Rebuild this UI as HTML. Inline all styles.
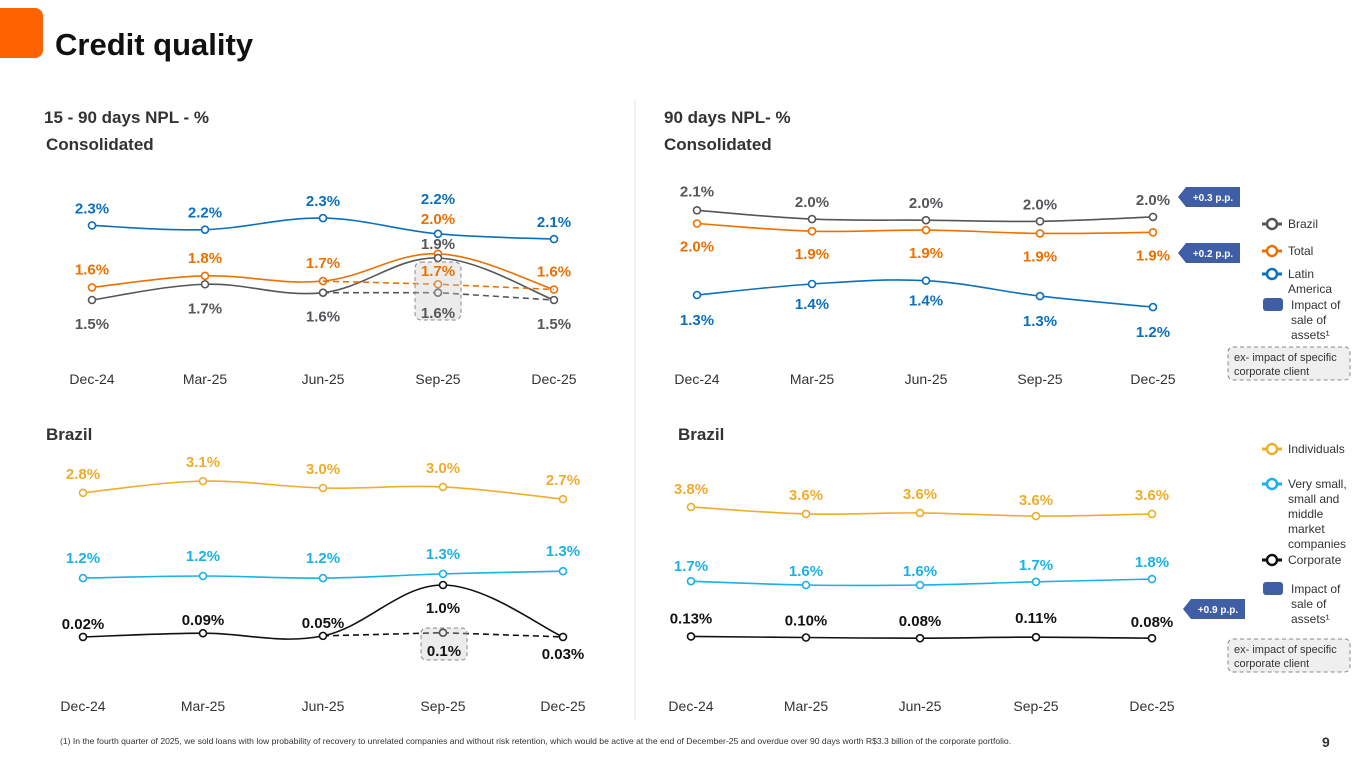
<!DOCTYPE html>
<html><head><meta charset="utf-8"><style>
html,body{margin:0;padding:0;background:#fff;}
body{width:1365px;height:768px;overflow:hidden;position:relative;font-family:"Liberation Sans",sans-serif;}
svg text{font-family:"Liberation Sans",sans-serif;}
</style></head><body>
<svg id="s" width="1365" height="768" viewBox="0 0 1365 768" xmlns="http://www.w3.org/2000/svg">
<rect x="-10" y="8" width="53" height="50" rx="8" fill="#ff6200"/>
<text x="55" y="55" font-size="31" font-weight="bold" fill="#111">Credit quality</text>
<text x="44" y="123" font-size="17" font-weight="bold" fill="#333">15 - 90 days NPL - %</text>
<text x="46" y="150" font-size="17" font-weight="bold" fill="#333">Consolidated</text>
<text x="664" y="123" font-size="17" font-weight="bold" fill="#333">90 days NPL- %</text>
<text x="664" y="150" font-size="17" font-weight="bold" fill="#333">Consolidated</text>
<text x="46" y="440" font-size="17" font-weight="bold" fill="#333">Brazil</text>
<text x="678" y="440" font-size="17" font-weight="bold" fill="#333">Brazil</text>
<line x1="635" y1="100" x2="635" y2="720" stroke="#e6e6e6"/>
<text x="60" y="744" font-size="8.6" fill="#333">(1) In the fourth quarter of 2025, we sold loans with low probability of recovery to unrelated companies and without risk retention, which would be active at the end of December-25 and overdue over 90 days worth R$3.3 billion of the corporate portfolio.</text>
<text x="1322" y="747" font-size="14" font-weight="bold" fill="#333">9</text>
<g id="g"></g>
</svg>
<script>
const categories=["Dec-24","Mar-25","Jun-25","Sep-25","Dec-25"];
// Top-left 15-90 NPL
const tlLatam=[2.21,2.17,2.28,2.13,2.08];
const tlTotal=[1.62,1.73,1.68,1.94,1.60];
const tlBrazil=[1.50,1.65,1.57,1.90,1.50];
const tlTotalEx=[1.65];
const tlBrazilEx=[1.57];
const tlLatamLbl=["2.3%","2.2%","2.3%","2.2%","2.1%"];
const tlTotalLbl=["1.6%","1.8%","1.7%","2.0%","1.6%"];
const tlBrazilLbl=["1.5%","1.7%","1.6%","1.9%","1.5%"];
const tlExLbl=["1.7%","1.6%"];
// Top-right 90 NPL
const trBrazil=[2.07,1.99,1.98,1.97,2.01];
const trTotal=[1.95,1.88,1.89,1.86,1.87];
const trLatam=[1.30,1.40,1.43,1.29,1.19];
const trBrazilLbl=["2.1%","2.0%","2.0%","2.0%","2.0%"];
const trTotalLbl=["2.0%","1.9%","1.9%","1.9%","1.9%"];
const trLatamLbl=["1.3%","1.4%","1.4%","1.3%","1.2%"];
// Bottom-left Brazil 15-90
const blInd=[2.74,2.96,2.83,2.85,2.62];
const blSme=[1.13,1.17,1.13,1.21,1.26];
const blCorp=[0.02,0.09,0.04,1.0,0.02];
const blCorpEx=[0.1];
const blIndLbl=["2.8%","3.1%","3.0%","3.0%","2.7%"];
const blSmeLbl=["1.2%","1.2%","1.2%","1.3%","1.3%"];
const blCorpLbl=["0.02%","0.09%","0.05%","1.0%","0.03%"];
const blExLbl=["0.1%"];
// Bottom-right Brazil 90
const brInd=[3.83,3.63,3.66,3.57,3.63];
const brSme=[1.71,1.60,1.60,1.69,1.77];
const brCorp=[0.13,0.10,0.08,0.11,0.08];
const brIndLbl=["3.8%","3.6%","3.6%","3.6%","3.6%"];
const brSmeLbl=["1.7%","1.6%","1.6%","1.7%","1.8%"];
const brCorpLbl=["0.13%","0.10%","0.08%","0.11%","0.08%"];
const badges=["+0.3 p.p.","+0.2 p.p.","+0.9 p.p."];

const NS="http://www.w3.org/2000/svg";
const G=document.getElementById('g');
function mk(t,a,p){const e=document.createElementNS(NS,t);for(const k in a)e.setAttribute(k,a[k]);(p||G).appendChild(e);return e;}
function txt(x,y,s,fill,size,anchor,w){const t=mk('text',{x:x,y:y,fill:fill,'font-size':size||15,'font-weight':w||'bold','text-anchor':anchor||'middle'});t.textContent=s;return t;}
function path(pts){let d='M'+pts[0][0]+','+pts[0][1];for(let i=0;i<pts.length-1;i++){const p0=pts[i-1]||pts[i],p1=pts[i],p2=pts[i+1],p3=pts[i+2]||p2;const t=0.18;d+=' C'+(p1[0]+(p2[0]-p0[0])*t)+','+(p1[1]+(p2[1]-p0[1])*t)+' '+(p2[0]-(p3[0]-p1[0])*t)+','+(p2[1]-(p3[1]-p1[1])*t)+' '+p2[0]+','+p2[1];}return d;}
function chart(name,xs,y0,k,series,axisY){
  const X=i=>xs[i],Y=v=>y0-k*v;
  categories.forEach((c,i)=>{const t=txt(X(i),axisY,c,'#333',14,'middle','normal');
    
    });
  series.forEach(s=>{
    const pts=s.v.map((v,i)=>[X(i),Y(v)]);
    const p=mk('path',{d:path(pts),fill:'none',stroke:s.c,'stroke-width':1.6});
    
    
    if(s.ex){const a=[X(2),Y(s.v[2])],b=[X(3),Y(s.ex[0])],c=[X(4),Y(s.v[4])];
      const d=mk('path',{d:'M'+a+' L'+b+' L'+c,fill:'none',stroke:s.c,'stroke-width':1.6,'stroke-dasharray':'6,4'});
      
      
      const m=mk('circle',{cx:b[0],cy:b[1],r:3.5,fill:'#fff',stroke:s.c,'stroke-width':1.6});
      
      }
    pts.forEach((q,i)=>{const m=mk('circle',{cx:q[0],cy:q[1],r:3.5,fill:'#fff',stroke:s.c,'stroke-width':1.6});
      
      
      const off=(s.off&&s.off[i]!=null)?s.off[i]:s.o;
      const t=txt(q[0]+(s.dx?s.dx[i]:0),q[1]+off,s.l[i],s.lc||s.c,15);
      
      });
  });
  return {X,Y};
}
// TL
const tlx=[92,205,323,438,554];
const tl=chart('tl',tlx,457.5,105,[
 {n:'latam',v:tlLatam,l:tlLatamLbl,c:'#0b6fbd',o:-12,off:[null,null,null,-30,null]},
 {n:'total',v:tlTotal,l:tlTotalLbl,c:'#ec7000',o:-13,off:[null,null,null,-30,-13]},
 {n:'brazil',v:tlBrazil,l:tlBrazilLbl,c:'#56565a',o:29,off:[null,null,null,-9,29],ex:tlBrazilEx},
],384);
// TL total dashed
(function(){const a=[tlx[2],tl.Y(tlTotal[2])],b=[tlx[3],tl.Y(tlTotalEx[0])],c=[tlx[4],tl.Y(tlTotal[4])];
 const d=mk('path',{d:'M'+a+' L'+b+' L'+c,fill:'none',stroke:'#ec7000','stroke-width':1.6,'stroke-dasharray':'6,4'});
 
 
 const m=mk('circle',{cx:b[0],cy:b[1],r:3.5,fill:'#fff',stroke:'#ec7000','stroke-width':1.6});
 
 })();
const hb=mk('rect',{x:415,y:262,width:46,height:58,rx:6,fill:'rgba(200,200,200,0.35)',stroke:'#888','stroke-dasharray':'4,3'});


let t1=txt(438,276,tlExLbl[0],'#ec7000',15);
let t2=txt(438,318,tlExLbl[1],'#56565a',15);
// TR
chart('tr',[697,812,926,1040,1153],438,110,[
 {n:'brazil',v:trBrazil,l:trBrazilLbl,c:'#56565a',o:-12,off:[-14,null,null,null,null]},
 {n:'total',v:trTotal,l:trTotalLbl,c:'#ec7000',o:28},
 {n:'latam',v:trLatam,l:trLatamLbl,c:'#0b6fbd',o:30,off:[null,25,25,null,null]},
],384);
// BL
const bl=chart('bl',[83,203,323,443,563],638,53,[
 {n:'individuals',v:blInd,l:blIndLbl,c:'#f0ac2c',o:-14},
 {n:'sme',v:blSme,l:blSmeLbl,c:'#19b1e6',o:-15},
 {n:'corporate',v:blCorp,l:blCorpLbl,c:'#111',o:-8,off:[null,null,null,28,22],lc:'#111',ex:blCorpEx},
],711);
const hb2=mk('rect',{x:421,y:628,width:46,height:32,rx:5,fill:'rgba(200,200,200,0.35)',stroke:'#888','stroke-dasharray':'4,3'});


let t3=txt(444,656,blExLbl[0],'#111',15);
// BR
chart('br',[691,806,920,1036,1152],641,35,[
 {n:'individuals',v:brInd,l:brIndLbl,c:'#f0ac2c',o:-12,off:[-13,-14,-14,-11,-14]},
 {n:'sme',v:brSme,l:brSmeLbl,c:'#19b1e6',o:-12,off:[-10,-9,-9,-12,-12]},
 {n:'corporate',v:brCorp,l:brCorpLbl,c:'#111',o:-12,off:[-13,-12,-12,-14,-11]},
],711);
// badges
[[1178,197,0],[1178,253,1],[1183,609,2]].forEach(b=>{
 const g=mk('g',{});
 
 
 mk('path',{d:'M'+b[0]+','+b[1]+' l8,-10 h54 v20 h-54 z',fill:'#3f5ea6'},g);
 const t=txt(b[0]+35,b[1]+4,badges[b[2]],'#fff',10);g.appendChild(t);
});
// legends
function leg(y,c,lines,name){
 const g=mk('g',{});
 mk('line',{x1:1262,y1:y,x2:1282,y2:y,stroke:c,'stroke-width':3},g);
 mk('circle',{cx:1272,cy:y,r:5,fill:'#fff',stroke:c,'stroke-width':2.5},g);
 lines.forEach((l,i)=>{const t=txt(1288,y+4+i*15,l,'#333',12,'start','normal');g.appendChild(t);});
}
function legBox(y,lines,name){
 const g=mk('g',{});
 mk('rect',{x:1263,y:y-8,width:20,height:13,rx:3,fill:'#3f5ea6'},g);
 lines.forEach((l,i)=>{const t=txt(1291,y+3+i*15,l,'#333',12,'start','normal');g.appendChild(t);});
}
function exBox(y,name){
 const g=mk('g',{});
 mk('rect',{x:1228,y:y,width:122,height:33,rx:5,fill:'#efefef',stroke:'#888','stroke-dasharray':'4,3'},g);
 g.appendChild(txt(1234,y+14,'ex- impact of specific','#333',11,'start','normal'));
 g.appendChild(txt(1234,y+28,'corporate client','#333',11,'start','normal'));
}
leg(224,'#56565a',['Brazil'],'legend-brazil');
leg(251,'#ec7000',['Total'],'legend-total');
leg(274,'#0b6fbd',['Latin','America'],'legend-latam');
legBox(306,['Impact of','sale of','assets¹'],'legend-impact-top');
exBox(347,'legend-ex-top');
leg(449,'#f0ac2c',['Individuals'],'legend-individuals');
leg(484,'#19b1e6',['Very small,','small and','middle','market','companies'],'legend-sme');
leg(560,'#111',['Corporate'],'legend-corporate');
legBox(590,['Impact of','sale of','assets¹'],'legend-impact-bottom');
exBox(639,'legend-ex-bottom');
</script>
</body></html>
